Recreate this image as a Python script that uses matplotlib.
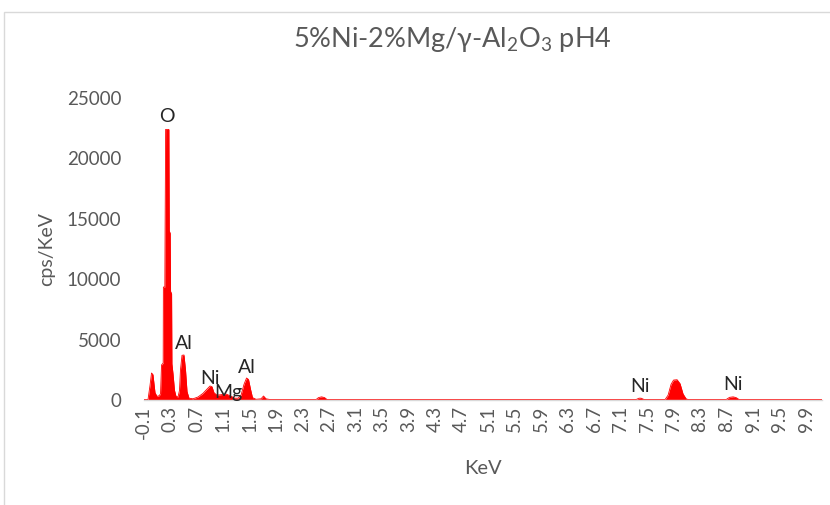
import matplotlib
matplotlib.use("Agg")
import matplotlib.pyplot as plt
from matplotlib.patches import Rectangle

plt.rcParams['font.family'] = ['Lato', 'DejaVu Sans']
plt.rcParams['mathtext.fontset'] = 'custom'
plt.rcParams['mathtext.rm'] = 'Lato'
plt.rcParams['mathtext.default'] = 'regular'

# spectrum points (keV, cps/keV)
energy = [-0.10, -0.032, -0.002, 0.021, 0.043, 0.074, 0.104, 0.134, 0.157,
          0.172, 0.197, 0.200, 0.222, 0.226, 0.234, 0.283, 0.289, 0.303, 0.308,
          0.324, 0.329, 0.345, 0.368, 0.391, 0.421,
          0.443, 0.458, 0.481, 0.511, 0.534, 0.557, 0.587,
          0.647, 0.723, 0.798, 0.858, 0.904, 0.934, 0.964, 1.009,
          1.085, 1.145, 1.206, 1.281, 1.326,
          1.372, 1.417, 1.455, 1.485, 1.515, 1.545, 1.598,
          1.674, 1.711, 1.749, 1.809,
          2.504, 2.542, 2.587, 2.632, 2.670,
          7.334, 7.379, 7.409, 7.455,
          7.772, 7.817, 7.862, 7.900, 7.953, 7.998, 8.043, 8.089, 8.119,
          8.693, 8.745, 8.798, 8.843, 8.889, 10.14]
counts = [40, 40, 1200, 2235, 2100, 600, 300, 350, 500,
          2900, 3060, 9350, 9350, 14070, 22400, 22400, 14000, 13800, 9000,
          8800, 3000, 2200, 800, 300, 250,
          800, 2500, 3700, 3725, 2500, 700, 150,
          100, 250, 550, 900, 1160, 1100, 600, 400,
          450, 500, 350, 150, 150,
          400, 1300, 1820, 1700, 900, 200, 60,
          100, 330, 100, 40,
          40, 200, 260, 200, 40,
          40, 150, 150, 40,
          40, 400, 1300, 1650, 1680, 1350, 500, 100, 40,
          40, 220, 260, 200, 40, 40]

# element labels
elements = ['O', 'Al', 'Ni', 'Mg', 'Al', 'Ni', 'Ni']
label_x = [0.26, 0.511, 0.904, 1.175, 1.462, 7.394, 8.798]
label_y = [23430, 4640, 1820, 580, 2730, 1080, 1320]

tick_vals = [round(-0.1 + 0.4 * k, 1) for k in range(26)]
tick_labels = ['%.1f' % v for v in tick_vals]

fig = plt.figure(figsize=(8.3, 5.05), dpi=100)
ax = fig.add_axes([143.5 / 830, 1 - 400 / 505, (822 - 143.5) / 830, 302 / 505])

ax.fill_between(energy, counts, 0, color='#ff0000', linewidth=0)
ax.plot(energy, counts, color='#ff0000', linewidth=0.6)

for el, x, y in zip(elements, label_x, label_y):
    ax.text(x, y, el, ha='center', va='center', fontsize=14, color='#262626')

ax.set_xlim(-0.1, 10.14)
ax.set_ylim(0, 25000)
ax.set_yticks(range(0, 25001, 5000))
ax.set_xticks(tick_vals)
ax.set_xticklabels(tick_labels, rotation=90)
ax.tick_params(axis='both', length=0, labelsize=13.5, colors='#595959')
ax.tick_params(axis='y', pad=16)
ax.tick_params(axis='x', pad=4)

for s in ['top', 'right', 'left']:
    ax.spines[s].set_visible(False)
ax.spines['bottom'].set_color('#d9d9d9')
ax.spines['bottom'].set_linewidth(1)

ax.set_xlabel('KeV', fontsize=14.5, color='#595959', labelpad=15)
ax.set_ylabel('cps/KeV', fontsize=14, color='#595959', labelpad=8)

fig.text(0.545, 1 - 40 / 505, '5%Ni-2%Mg/γ-Al$_2$O$_3$ pH4', ha='center', va='center',
         fontsize=19.5, color='#595959')

fig.patches.append(Rectangle((4 / 830, -0.1), 1.2, 1 - 12 / 505 + 0.1, transform=fig.transFigure,
                             fill=False, edgecolor='#d9d9d9', linewidth=1))

fig.savefig('out.png', dpi=100)
